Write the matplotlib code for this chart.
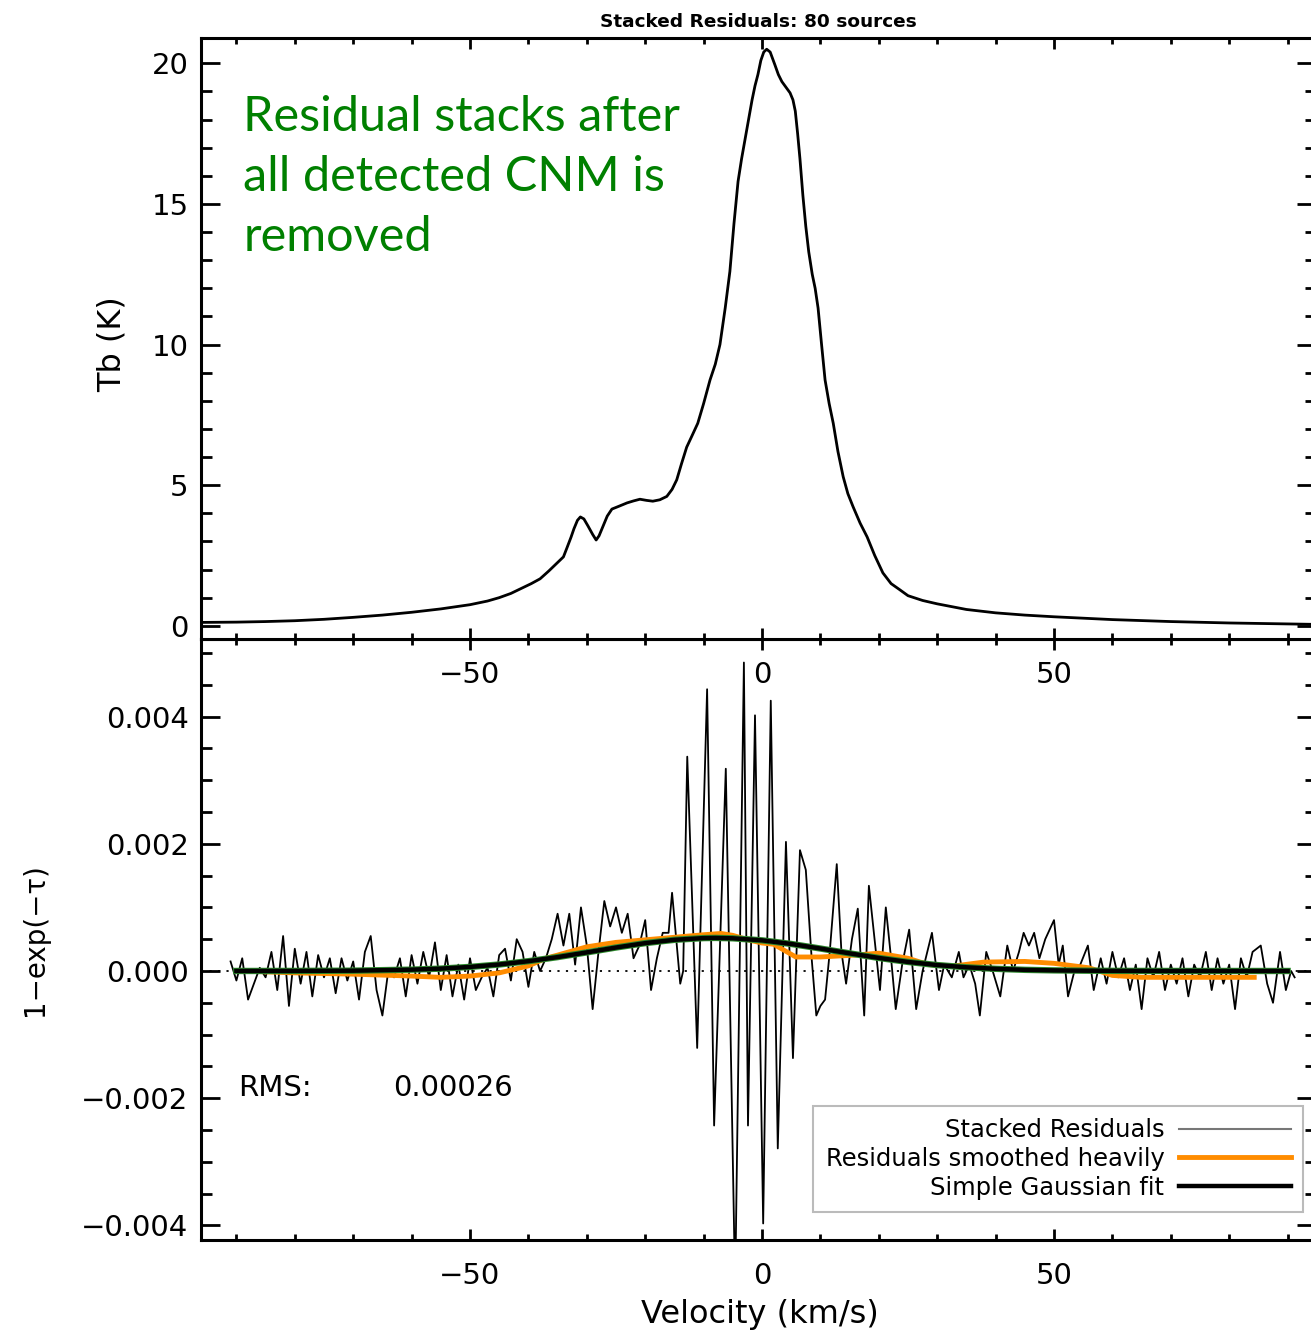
import matplotlib
matplotlib.use("Agg")
import matplotlib.pyplot as plt
from matplotlib.ticker import MultipleLocator
from matplotlib.lines import Line2D
import numpy as np

# ---- top panel: stacked Tb emission profile ----
tb_vel = [-96, -90, -85, -80, -75, -70, -65, -60, -55, -50, -47, -45, -43, -41.4,
          -39.5, -38, -36.5, -35.5, -34.9, -34, -33.4, -32.7, -32.2, -31.6, -31.1,
          -30.5, -29.8, -29, -28.4, -27.9, -27.2, -26.5, -25.7, -24.5, -23.1, -22,
          -20.9, -19.8, -18.7, -17.5, -16.3, -15.4, -14.6, -13.8, -12.9, -12, -11,
          -10, -8.9, -8, -7.2, -6.3, -5.5, -4.8, -4.1, -3.5, -2.9, -2.3, -1.7, -1.2,
          -0.7, -0.2, 0.3, 0.8, 1.4, 2.2, 2.8, 3.4, 4.1, 4.8, 5.3, 5.7, 6.1, 6.5,
          7.0, 7.5, 8.0, 8.6, 9.1, 9.6, 10.2, 10.8, 11.5, 12.2, 13.0, 13.9, 14.7,
          15.6, 16.8, 18, 19.3, 20.7, 22.1, 23.6, 25, 27.5, 30, 35, 40, 45, 50, 60,
          70, 80, 94.8]
tb_val = [0.12, 0.13, 0.15, 0.18, 0.23, 0.3, 0.38, 0.48, 0.6, 0.75, 0.88, 1.0, 1.15,
          1.31, 1.5, 1.67, 1.95, 2.15, 2.27, 2.45, 2.77, 3.15, 3.45, 3.75, 3.87,
          3.8, 3.55, 3.25, 3.05, 3.2, 3.55, 3.9, 4.15, 4.25, 4.37, 4.44,
          4.5, 4.46, 4.43, 4.48, 4.6, 4.85, 5.19, 5.75, 6.35, 6.75, 7.2,
          7.9, 8.74, 9.3, 10.0, 11.3, 12.6, 14.3, 15.8, 16.6, 17.3, 18.0, 18.7, 19.2,
          19.6, 20.1, 20.4, 20.5, 20.4, 19.95, 19.6, 19.35, 19.15, 18.95, 18.7, 18.3,
          17.5, 16.6, 15.3, 14.2, 13.3, 12.5, 12.0, 11.3, 10.0, 8.74, 7.9, 7.2, 6.2,
          5.3, 4.7, 4.23, 3.65, 3.16, 2.5, 1.88, 1.5, 1.28, 1.07, 0.9, 0.78, 0.58,
          0.46, 0.38, 0.32, 0.22, 0.15, 0.1, 0.05]

# ---- bottom panel: stacked absorption residuals (units of 1e-4) ----
res_vel = list(range(-91, -16)) + [
    -16, -15.4, -14.5, -14, -13.5, -12.8, -11.1, -9.4, -8.2, -6.2, -4.6, -3.1,
    -2.4, -1.2, 0.2, 1.5, 2.7, 4.1, 5.3, 6.5, 7.5, 8.5, 9.3, 10, 10.8, 11.6,
    12.8, 13.6, 14.4, 15.4, 16.4, 17.5, 18.3, 19.5, 20.2, 21.2, 22.1, 22.9, 24,
    25.2, 26.4, 27.5, 28.3, 29.1, 30.3, 31.2, 32.5, 33.7, 34.5, 35.5, 36.5,
    37.3, 38.4, 39.5, 40.8, 42, 43, 44, 44.8, 45.7, 46.6, 47.5, 48.5, 50, 50.8,
    51.5, 52.4, 53.5, 54.5, 55.8, 56.8, 58, 59, 60, 61, 62, 63, 64, 65, 66, 67,
    68, 69, 70, 71, 72, 73, 74, 75, 76, 77, 78, 79, 80, 81, 82, 83, 84, 85.4,
    86.5, 87.5, 88.7, 89.7, 90.6, 91.2]
res_val = [
    1.5, -1.5, 2, -4.5, -2, 0.5, -1, 3, -3, 5.5,            # -91 .. -82
    -5.5, 3.5, -2, 3, -4, 2.5, -1, 2, -3.5, 2,             # -81 .. -72
    -1.5, 1.5, -4.5, 3, 5.5, -3, -7, 0, -1, 2,             # -71 .. -62
    -4, 2.5, -2, 3, -1, 4.5, -3, 2.5, -4, 1,               # -61 .. -52
    -4.5, 2, -3, -1, 0.5, -4, 2.5, 3.5, -1.5, 5,           # -51 .. -42
    3, -2.5, 3, 0, 2, 5, 9, 4, 9, 1,                       # -41 .. -32
    10, 4, -6, 3, 11, 7, 10, 6, 9, 2,                      # -31 .. -22
    4, 8, -3, 2, 6,                                        # -21 .. -17
    6, 12.3, 3, -2, 0, 33.7, -12.1, 44.3, -24.3, 31.8, -50, 48.5,
    -24.3, 40.2, -39.7, 42.5, -27.9, 20.3, -13.7, 19, 15.9, 2, -7, -5.5, -4.5, 3,
    16.8, 3, -2, 5, 9.8, -7, 13.4, 3, -3, 10, 2, -6, 1,
    6.5, -6, 0, 3, 6, -3, 1, -1, 3, -1, 1, -2,
    -7, 3, 0, -4, 4, 0, 3, 6, 4, 6, 2, 5, 8, 1,
    4, -4, 0, 1, 4, -3, 2, -2, 3, -1, 2, -3, 1, -6, 2, -1,
    3, -3, 1, -2, 2, -4, 1, -1, 3, -3, 2, -2, 1, -6, 2, -1, 3, 4,
    -2, -5, 3, -3, 0, -1]

# heavily smoothed residuals (1e-4)
smooth_vel = [-89, -80, -70, -60, -55, -50, -45, -40, -37, -35, -30, -25, -20,
              -15, -10, -7, -5, -2, 0, 2, 5.8, 10, 16, 20, 25, 28.5, 33, 38, 45,
              50, 56, 60, 65, 75, 84.7]
smooth_val = [0, -0.3, -0.5, -0.8, -1.0, -0.8, -0.3, 0.8, 2.0, 2.5, 3.8, 4.5, 4.9,
              5.3, 5.7, 5.9, 5.6, 4.8, 4.4, 4.2, 2.2, 2.2, 2.5, 2.8, 2.0, 1.0, 0.8,
              1.4, 1.5, 1.2, 0.5, -0.7, -1.0, -1.0, -1.0]

# simple gaussian fit (1e-4)
fit_vel = [-90, -80, -70, -60, -55, -50, -45, -40, -35, -30, -25, -20, -15, -10,
           -8, -5, 0, 5, 10, 15, 20, 25, 30, 35, 40, 45, 50, 55, 60, 70, 90]
fit_val = [0.0, 0.01, 0.05, 0.21, 0.37, 0.64, 1.02, 1.54, 2.18, 2.92, 3.69, 4.38,
           4.9, 5.17, 5.2, 5.14, 4.82, 4.25, 3.53, 2.77, 2.05, 1.42, 0.93, 0.58,
           0.34, 0.18, 0.095, 0.05, 0.02, 0.0, 0.0]

rms_text = "0.00026"

scale = 1e-4
res_y = np.array(res_val) * scale
smooth_y = np.array(smooth_val) * scale
fit_y = np.array(fit_val) * scale

W, H = 1311, 1337
fig = plt.figure(figsize=(W / 100, H / 100), dpi=100)

x0, x1 = 201, 1316
ax_bot = fig.add_axes([x0 / W, 1 - 1240 / H, (x1 - x0) / W, (1240 - 639) / H])
ax_top = fig.add_axes([x0 / W, 1 - 639 / H, (x1 - x0) / W, (639 - 38) / H])
ax_bot.patch.set_visible(False)

tick_fs = 21
label_fs = 23
for ax in (ax_top, ax_bot):
    for sp in ax.spines.values():
        sp.set_linewidth(2.2)
    ax.set_xlim(-96.06, 94.86)
    ax.xaxis.set_major_locator(MultipleLocator(50))
    ax.xaxis.set_minor_locator(MultipleLocator(10))
    ax.tick_params(which="both", direction="in", top=True, right=True,
                   labelsize=tick_fs, width=2.0)
    ax.tick_params(axis="y", which="major", length=14, pad=9)
    ax.tick_params(axis="y", which="minor", length=8)
    ax.tick_params(axis="x", which="major", length=8, pad=16)
    ax.tick_params(axis="x", which="minor", length=4)

# top panel
ax_top.plot(tb_vel, tb_val, color="black", lw=2.0)
ax_top.set_ylim(-0.47, 20.9)
ax_top.yaxis.set_major_locator(MultipleLocator(5))
ax_top.yaxis.set_minor_locator(MultipleLocator(1))
ax_top.set_ylabel("Tb (K)", fontsize=label_fs)
ax_top.yaxis.set_label_coords(-0.066, 0.49)
ax_top.set_title("Stacked Residuals: 80 sources", fontsize=13.3, fontweight="bold", pad=8)
ax_top.text(0.038, 0.905, "Residual stacks after\nall detected CNM is\nremoved",
            transform=ax_top.transAxes, ha="left", va="top", color="#008000",
            fontsize=35, family="Lato", linespacing=1.45)

# bottom panel
ax_bot.axhline(0, color="black", lw=1.3, ls=(0, (1.2, 3.5)))
ax_bot.plot(res_vel, res_y, color="black", lw=1.3)
ax_bot.plot(smooth_vel, smooth_y, color="#ff8c00", lw=3.5, solid_capstyle="butt")
ax_bot.plot(fit_vel, fit_y, color="#2e8b2e", lw=4.6)
ax_bot.plot(fit_vel, fit_y, color="black", lw=3.2)
ax_bot.set_ylim(-0.00423, 0.00522)
ax_bot.yaxis.set_major_locator(MultipleLocator(0.002))
ax_bot.yaxis.set_minor_locator(MultipleLocator(0.0005))
ax_bot.yaxis.set_major_formatter(lambda v, p: f"{v:.3f}".replace("-", "\u2212"))
ax_bot.set_ylabel("1\u2212exp(\u2212\u03c4)", fontsize=20)
ax_bot.yaxis.set_label_coords(-0.136, 0.5)
ax_bot.set_xlabel("Velocity (km/s)", fontsize=label_fs)
ax_bot.xaxis.set_label_coords(0.5015, -0.098)

ax_bot.text(0.033, 0.253, "RMS:", transform=ax_bot.transAxes, fontsize=tick_fs,
            ha="left", va="center")
ax_bot.text(0.172, 0.253, rms_text, transform=ax_bot.transAxes, fontsize=tick_fs,
            ha="left", va="center")

# legend
handles = [Line2D([], [], color="#777777", lw=1.5),
           Line2D([], [], color="#ff8c00", lw=3.5),
           Line2D([], [], color="black", lw=3.2)]
labels = ["Stacked Residuals", "Residuals smoothed heavily", "Simple Gaussian fit"]
leg = ax_bot.legend(handles, labels, loc="lower right",
                    bbox_to_anchor=((1303 - x0) / (x1 - x0), 0.0466), borderaxespad=0,
                    markerfirst=False, fontsize=17.5, handlelength=4.6,
                    handletextpad=0.6, labelspacing=0.2, fancybox=False,
                    framealpha=1, edgecolor="#bbbbbb", borderpad=0.5)
leg.get_frame().set_linewidth(1.5)

fig.savefig("out.png", dpi=100)
